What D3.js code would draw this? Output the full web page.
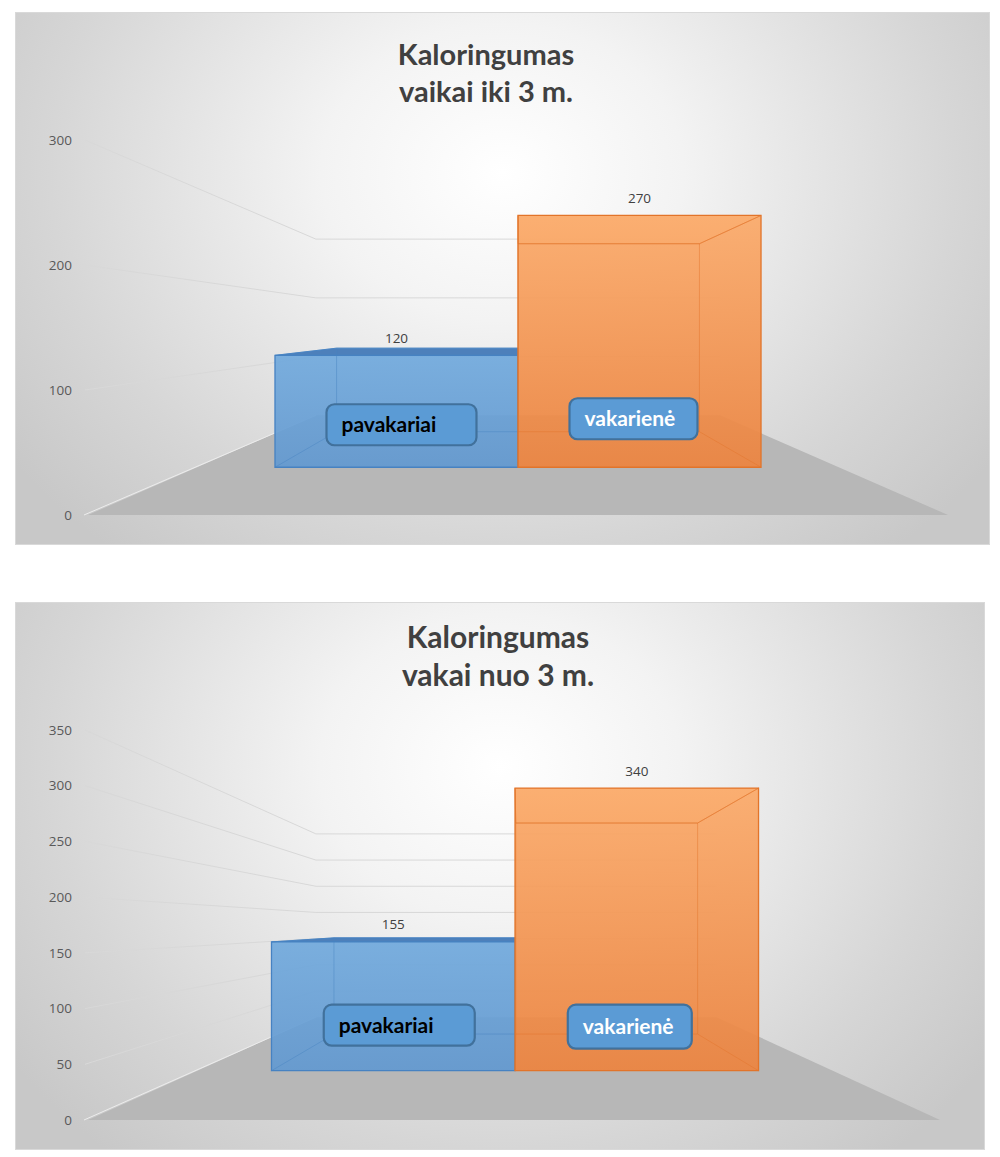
<!DOCTYPE html>
<html><head><meta charset="utf-8">
<script src="https://cdn.jsdelivr.net/npm/d3@7"></script>
<style>body{margin:0;background:#fff} svg{display:block}</style>
</head><body>
<svg id="c" width="1000" height="1157"></svg>
<script>
// ---------- DATA ----------
const categories = ["pavakariai", "vakarienė"];
const valuesUnder3 = [120, 270];
const valuesOver3 = [155, 340];
const ticksUnder3 = [0, 100, 200, 300];
const ticksOver3 = [0, 50, 100, 150, 200, 250, 300, 350];
const titleUnder3 = ["Kaloringumas", "vaikai iki 3 m."];
const titleOver3 = ["Kaloringumas", "vakai nuo 3 m."];

// ---------- STYLE / LAYOUT ----------
const F_BAR_FRONT = 0.746, F_BAR_BACK = 0.557, F_WALL = 0.47;
const seriesStyle = [
  {id: "b", bottom: "#5b9bd5", g0: "#72aadd", g1: "#6399d0", stroke: "#4682c2", topFace: "#4d80bb", topOp: 1},
  {id: "o", bottom: "#ed7d31", g0: "#fbab6b", g1: "#ec8440", stroke: "#e2742a", topFace: "#fcc08c", topOp: 0.7}
];
const FONT = "Lato, 'Open Sans', sans-serif";

const charts = [
  {values: valuesUnder3, ticks: ticksUnder3, title: titleUnder3,
   panel: {x: 15.5, y: 12.5, w: 974, h: 532}, vp: [518, 327],
   yRange: [515, 140], floorX: [88, 948], padOuter: 0.32,
   titleX: 486, titleBase: [65, 102], titleSize: 29,
   boxes: [{dx: 5, dy: 42.5, w: 150, h: 41, color: "#000"}, {dx: -6, dy: 48.5, w: 128, h: 41, color: "#fff"}]},
  {values: valuesOver3, ticks: ticksOver3, title: titleOver3,
   panel: {x: 15.5, y: 602.5, w: 969, h: 547}, vp: [518, 926],
   yRange: [1120, 730], floorX: [88, 940], padOuter: 0.305,
   titleX: 498, titleBase: [648, 686], titleSize: 30,
   boxes: [{dx: 6, dy: 45.5, w: 151, h: 41, color: "#000"}, {dx: -7, dy: 44, w: 124, h: 44, color: "#fff"}]}
];

const svg = d3.select("#c");
const defs = svg.append("defs");
const bg = defs.append("radialGradient").attr("id", "bg").attr("cx", 0.5).attr("cy", 0.3).attr("r", 0.62)
  .attr("gradientTransform", "translate(0.5,0.3) scale(1,1.5) translate(-0.5,-0.3)");
[[0, "#ffffff"], [0.3, "#f3f3f3"], [0.75, "#d6d6d6"], [1, "#c8c8c8"]].forEach(s => bg.append("stop").attr("offset", s[0]).attr("stop-color", s[1]));
seriesStyle.forEach(s => {
  const g = defs.append("linearGradient").attr("id", "grad" + s.id).attr("x1", 0).attr("y1", 0).attr("x2", 0).attr("y2", 1);
  g.append("stop").attr("offset", 0).attr("stop-color", s.g0);
  g.append("stop").attr("offset", 1).attr("stop-color", s.g1);
});

const line = d3.line();

charts.forEach(ch => {
  const g = svg.append("g");
  const p = ch.panel;
  g.append("rect").attr("x", p.x).attr("y", p.y).attr("width", p.w).attr("height", p.h)
    .attr("fill", "url(#bg)").attr("stroke", "#d9d9d9").attr("stroke-width", 1);

  const [vx, vy] = ch.vp;
  const P = (x, y, f) => [vx + (x - vx) * f, vy + (y - vy) * f];
  const y = d3.scaleLinear().domain([0, d3.max(ch.ticks)]).range(ch.yRange);
  const x = d3.scaleBand().domain(categories).range(ch.floorX).paddingInner(0).paddingOuter(ch.padOuter);
  const [fx0, fx1] = ch.floorX;

  // title
  ch.title.forEach((t, i) => g.append("text").attr("x", ch.titleX).attr("y", ch.titleBase[i])
    .attr("text-anchor", "middle").attr("font-family", FONT).attr("font-weight", 700)
    .attr("font-size", ch.titleSize).attr("fill", "#404040").text(t));

  // gridlines (left wall + back wall)
  ch.ticks.filter(v => v > 0).forEach(v => {
    const pts = [P(fx0 - 3, y(v), 1), P(fx0, y(v), F_WALL), P(fx1, y(v), F_WALL)];
    g.append("path").attr("d", line(pts)).attr("fill", "none").attr("stroke", "#d8d8d8").attr("stroke-width", 1);
  });

  // tick labels
  ch.ticks.forEach(v => g.append("text").attr("x", fx0 - 16).attr("y", y(v)).attr("dy", "0.35em")
    .attr("text-anchor", "end").attr("font-family", "'Open Sans', sans-serif").attr("font-size", 13.5)
    .attr("fill", "#595959").text(v));

  // floor
  const y0 = y(0);
  g.append("path").attr("d", line([P(fx0, y0, 1), P(fx1, y0, 1), P(fx1, y0, F_WALL), P(fx0, y0, F_WALL)]) + "Z")
    .attr("fill", "#b7b7b7");
  g.append("path").attr("d", line([P(fx0 - 4, y0, 1), P(fx0, y0, F_WALL)])).attr("stroke", "#ececec").attr("stroke-width", 1).attr("fill", "none");

  // bars
  ch.values.forEach((v, i) => {
    const s = seriesStyle[i];
    const xa = x(categories[i]), xb = xa + x.bandwidth(), yt = y(v);
    const FF = F_BAR_FRONT, FB = F_BAR_BACK;
    const FBL = P(xa, y0, FF), FBR = P(xb, y0, FF), FTL = P(xa, yt, FF), FTR = P(xb, yt, FF);
    const BBL = P(xa, y0, FB), BBR = P(xb, y0, FB), BTL = P(xa, yt, FB), BTR = P(xb, yt, FB);
    const face = (pts, fill, op) => g.append("path").attr("d", line(pts) + "Z").attr("fill", fill).attr("fill-opacity", op).attr("stroke", "none");
    face([BBL, BBR, BTR, BTL], s.bottom, 0.3);
    face([FBL, FBR, BBR, BBL], s.bottom, 0.3);
    face([FBL, BBL, BTL, FTL], s.bottom, 0.25);
    face([FBR, BBR, BTR, FTR], s.bottom, 0.25);
    face([FTL, FTR, BTR, BTL], s.topFace, s.topOp);
    g.append("path").attr("d", line([FBL, FBR, FTR, FTL]) + "Z").attr("fill", "url(#grad" + s.id + ")").attr("fill-opacity", 0.9).attr("stroke", "none");
    const inner = [[BBL, BBR], [BBR, BTR], [BTR, BTL], [BTL, BBL], [FBL, BBL], [FBR, BBR], [FTR, BTR], [FTL, BTL]];
    inner.forEach(e => g.append("path").attr("d", line(e)).attr("stroke", s.stroke).attr("stroke-opacity", 0.45).attr("stroke-width", 1).attr("fill", "none"));
    g.append("path").attr("d", line([FTL, BTL, BTR, FTR])).attr("stroke", s.stroke).attr("stroke-opacity", i === 0 ? 0.9 : 0.5).attr("fill", "none");
    g.append("path").attr("d", line([FBL, FBR, FTR, FTL]) + "Z").attr("fill", "none").attr("stroke", s.stroke).attr("stroke-width", 1.3);
    const cx = (FBL[0] + FBR[0]) / 2;
    g.append("text").attr("x", cx).attr("y", FTL[1] - 12.5).attr("text-anchor", "middle")
      .attr("font-family", "'Open Sans', sans-serif").attr("font-size", 13.5).attr("fill", "#404040").text(v);
    const b = ch.boxes[i];
    const bx = cx + b.dx - b.w / 2, by = FBL[1] - b.dy - b.h / 2;
    g.append("rect").attr("x", bx).attr("y", by).attr("width", b.w).attr("height", b.h).attr("rx", 8)
      .attr("fill", "#5b9bd5").attr("stroke", "#41719c").attr("stroke-width", 2.2);
    g.append("text").attr("x", bx + 15).attr("y", by + b.h / 2).attr("dy", "0.36em")
      .attr("font-family", FONT).attr("font-weight", 700).attr("font-size", 21).attr("fill", b.color).text(categories[i]);
  });
});
</script>
</body></html>
